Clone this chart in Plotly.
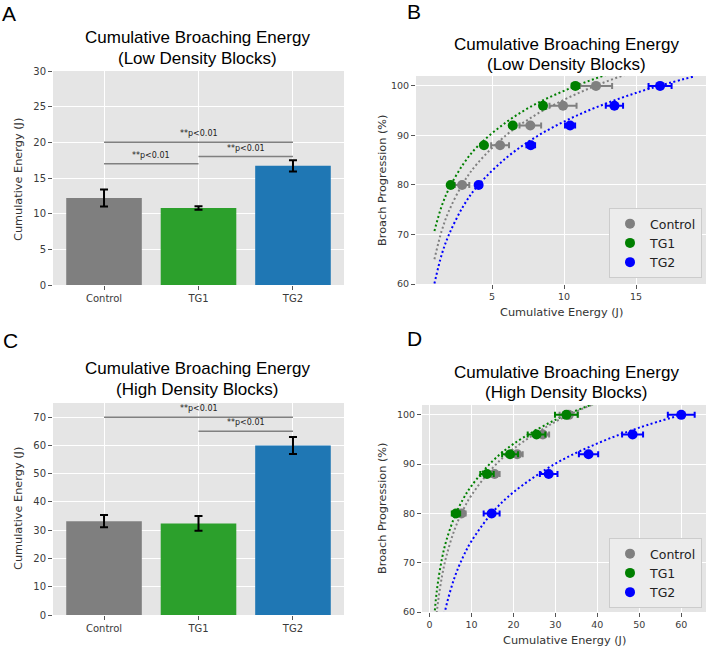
import plotly.graph_objects as go

W, H = 708, 650

# ---- data ----
groups = ["Control", "TG1", "TG2"]
bar_colors = ["#7f7f7f", "#2ca02c", "#1f77b4"]

low_energy = [12.2, 10.8, 16.7]
low_err = [1.2, 0.25, 0.8]
high_energy = [33.2, 32.4, 60.0]
high_err = [2.2, 2.6, 3.0]

# significance brackets: (from, to, height)
low_sig = [(0, 1, 17), (1, 2, 18), (0, 2, 20)]
high_sig = [(1, 2, 65), (0, 2, 70)]
sig_text = "**p<0.01"

progress = [80, 88, 92, 96, 100]
pt_colors = ["grey", "green", "blue"]

low_pts = {
    "Control": [2.92, 5.56, 7.66, 9.93, 12.22],
    "TG1": [2.13, 4.44, 6.44, 8.54, 10.79],
    "TG2": [4.07, 7.69, 10.42, 13.50, 16.67],
}
low_pts_err = {
    "Control": [0.5, 0.62, 0.75, 0.94, 1.12],
    "TG1": [0.1, 0.12, 0.15, 0.2, 0.25],
    "TG2": [0.2, 0.3, 0.35, 0.6, 0.8],
}
high_pts = {
    "Control": [7.6, 15.5, 20.9, 27.0, 33.2],
    "TG1": [6.3, 13.7, 19.2, 25.5, 32.6],
    "TG2": [14.8, 28.4, 37.9, 48.4, 60.0],
}
high_pts_err = {
    "Control": [1.0, 1.2, 1.3, 1.5, 2.2],
    "TG1": [1.0, 1.6, 1.9, 2.1, 2.7],
    "TG2": [1.9, 2.1, 2.3, 2.5, 3.2],
}

# dotted trend curves
low_curve_x = [1, 1.5, 2, 3, 4, 6, 8, 10, 12, 14, 16, 19]
low_curve_y = {
    "Control": [65.0, 70.7, 74.7, 80.4, 84.4, 90.1, 94.1, 97.2, 99.8, 102.0, 103.8, 106.2],
    "TG1": [70.7, 75.7, 79.2, 84.2, 87.8, 92.7, 96.3, 99.0, 101.3, 103.2, 104.8, 106.9],
    "TG2": [60.1, 65.9, 69.9, 75.7, 79.8, 85.5, 89.6, 92.8, 95.4, 97.6, 99.5, 101.9],
}
high_curve_x = [1, 1.5, 2, 3, 4, 6, 8, 10, 15, 20, 30, 40, 50, 60]
high_curve_y = {
    "Control": [52.5, 58.0, 61.9, 67.4, 71.3, 76.8, 80.7, 83.7, 89.2, 93.1, 98.6, 102.5, 105.5, 108.0],
    "TG1": [57.6, 62.5, 66.0, 71.0, 74.5, 79.4, 82.9, 85.6, 90.6, 94.1, 99.0, 102.5, 105.2, 107.4],
    "TG2": [41.5, 47.3, 51.4, 57.2, 61.3, 67.1, 71.2, 74.4, 80.2, 84.3, 90.1, 94.2, 97.4, 100.0],
}

fig = go.Figure()

TICK = dict(family="DejaVu Sans", size=10, color="#3a3a3a")
TITLE_FONT = dict(family="Liberation Sans", size=17, color="black")
LAB_FONT = dict(family="DejaVu Sans", size=11.3, color="#333")
LETTER_FONT = dict(family="Liberation Sans", size=21, color="black")


def px_x(x):
    return x / W


def px_y(y):
    return 1 - y / H


def bar_panel(n, vals, errs, sigs):
    fig.add_trace(go.Bar(
        x=groups, y=vals, width=0.8,
        marker=dict(color=bar_colors, line=dict(width=0)),
        error_y=dict(type="data", array=errs, color="black", thickness=2, width=4),
        xaxis="x%d" % n, yaxis="y%d" % n, showlegend=False))
    for a, b, h in sigs:
        fig.add_trace(go.Scatter(
            x=[groups[a], groups[b]], y=[h, h], mode="lines",
            line=dict(color="#808080", width=1.5),
            xaxis="x%d" % n, yaxis="y%d" % n, showlegend=False, hoverinfo="skip"))
        fig.add_annotation(x=(a + b) / 2, y=h, xref="x%d" % n, yref="y%d" % n,
                           text=sig_text, showarrow=False, yanchor="bottom", yshift=2,
                           font=dict(family="DejaVu Sans", size=8, color="#222"))


def curve_panel(n, pts, errs, cx, cy, legend):
    for g, c in zip(groups, pt_colors):
        fig.add_trace(go.Scatter(
            x=cx, y=cy[g], mode="lines", line=dict(color=c, width=2, dash="2px,2.5px", shape="spline"),
            xaxis="x%d" % n, yaxis="y%d" % n, showlegend=False, hoverinfo="skip"))
    for g, c in zip(groups, pt_colors):
        fig.add_trace(go.Scatter(
            x=pts[g], y=progress, mode="markers", name=g,
            marker=dict(color=c, size=10, line=dict(width=0)),
            error_x=dict(type="data", array=errs[g], color=c, thickness=2, width=3),
            xaxis="x%d" % n, yaxis="y%d" % n, legend=legend))


bar_panel(1, low_energy, low_err, low_sig)
curve_panel(2, low_pts, low_pts_err, low_curve_x, low_curve_y, "legend")
bar_panel(3, high_energy, high_err, high_sig)
curve_panel(4, high_pts, high_pts_err, high_curve_x, high_curve_y, "legend2")

ax = dict(showgrid=True, gridcolor="white", gridwidth=1, zeroline=False, automargin=False,
          ticks="outside", ticklen=4, tickcolor="#555", tickfont=TICK, showline=False)
LEG = dict(xanchor="right", yanchor="bottom", bgcolor="#ECECEC", bordercolor="#CCCCCC",
           borderwidth=1, font=dict(family="DejaVu Sans", size=12.5, color="#222"),
           itemwidth=30, tracegroupgap=0)

fig.update_layout(
    width=W, height=H, margin=dict(l=0, r=0, t=0, b=0, autoexpand=False),
    paper_bgcolor="white", plot_bgcolor="#E5E5E5",
    xaxis=dict(ax, domain=[px_x(53), px_x(344)], anchor="y", type="category",
               range=[-0.54, 2.54]),
    yaxis=dict(ax, domain=[px_y(285), px_y(71)], anchor="x", range=[0, 30], dtick=5),
    xaxis2=dict(ax, domain=[px_x(416), px_x(706)], anchor="y2", range=[-0.28, 19.86],
                tickvals=[5, 10, 15], tickfont=dict(TICK, size=9.5)),
    yaxis2=dict(ax, domain=[px_y(284), px_y(76)], anchor="x2", range=[60, 102],
                tickvals=[60, 70, 80, 90, 100], tickfont=dict(TICK, size=9.5)),
    xaxis3=dict(ax, domain=[px_x(53), px_x(344)], anchor="y3", type="category",
                range=[-0.54, 2.54]),
    yaxis3=dict(ax, domain=[px_y(615), px_y(403)], anchor="x3", range=[0, 75], dtick=10),
    xaxis4=dict(ax, domain=[px_x(422), px_x(706)], anchor="y4", range=[-1.8, 65.9],
                dtick=10, tickfont=dict(TICK, size=9.5)),
    yaxis4=dict(ax, domain=[px_y(612), px_y(405)], anchor="x4", range=[60, 102],
                tickvals=[60, 70, 80, 90, 100], tickfont=dict(TICK, size=9.5)),
    legend=dict(LEG, x=px_x(702), y=px_y(278)),
    legend2=dict(LEG, x=px_x(702), y=px_y(608)),
)

# text: panel letters, titles, axis labels
texts = [
    ("A", 9, 14, 0, LETTER_FONT),
    ("B", 414, 12, 0, LETTER_FONT),
    ("C", 10, 340, 0, LETTER_FONT),
    ("D", 414, 338, 0, LETTER_FONT),
    ("Cumulative Broaching Energy", 198, 38, 0, TITLE_FONT),
    ("(Low Density Blocks)", 198, 59, 0, TITLE_FONT),
    ("Cumulative Broaching Energy", 566, 44, 0, TITLE_FONT),
    ("(Low Density Blocks)", 566, 65, 0, TITLE_FONT),
    ("Cumulative Broaching Energy", 198, 368, 0, TITLE_FONT),
    ("(High Density Blocks)", 198, 389, 0, TITLE_FONT),
    ("Cumulative Broaching Energy", 566, 372, 0, TITLE_FONT),
    ("(High Density Blocks)", 566, 392, 0, TITLE_FONT),
    ("Cumulative Energy (J)", 18, 180, -90, LAB_FONT),
    ("Cumulative Energy (J)", 18, 509, -90, LAB_FONT),
    ("Broach Progression (%)", 382, 180, -90, LAB_FONT),
    ("Broach Progression (%)", 382, 508, -90, LAB_FONT),
    ("Cumulative Energy (J)", 561, 313, 0, LAB_FONT),
    ("Cumulative Energy (J)", 564, 640, 0, LAB_FONT),
]
for t, x, y, ang, f in texts:
    fig.add_annotation(text=t, x=px_x(x), y=px_y(y), xref="paper", yref="paper",
                       showarrow=False, textangle=ang, font=f,
                       xanchor="center", yanchor="middle")

# the page's default body margin would shift the figure by 8px
fig.write_html("out.html", config={"displayModeBar": False},
               post_script="document.body.style.margin='0';")
